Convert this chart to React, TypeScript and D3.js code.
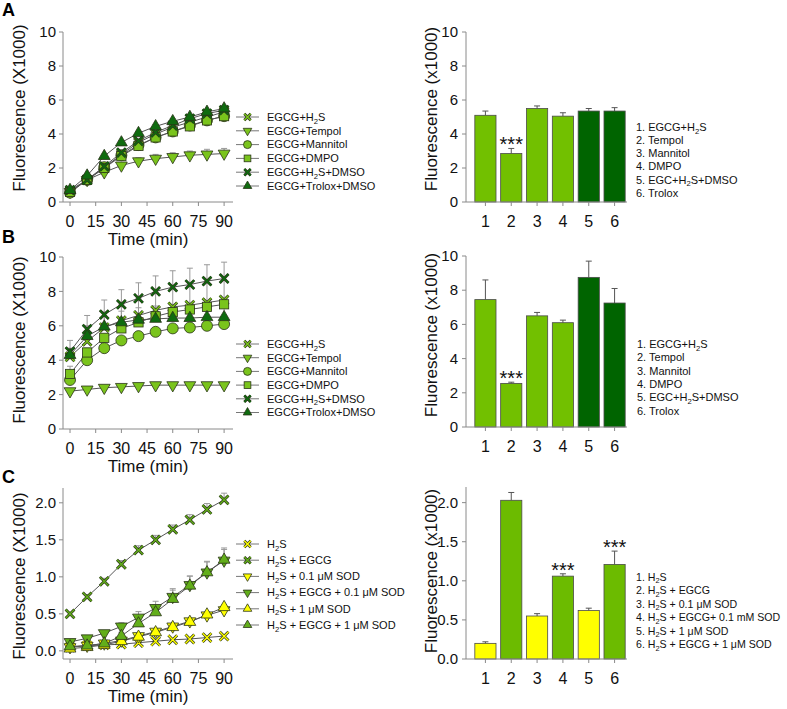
import React from 'react';
import * as d3 from 'd3';

// ---------- data ----------
const timeMin = [0, 10, 20, 30, 40, 50, 60, 70, 80, 90];
const timeTicks = [0, 15, 30, 45, 60, 75, 90];
const barCats = [1, 2, 3, 4, 5, 6];

const legendAB = ['EGCG+H2S', 'EGCG+Tempol', 'EGCG+Mannitol', 'EGCG+DMPO', 'EGCG+H2S+DMSO', 'EGCG+Trolox+DMSO'];
const symbolsAB = ['x', 'down', 'circle', 'square', 'x', 'up'];
const colorsAB = ['lime', 'lime', 'lime', 'lime', 'dark', 'dark'];

const legendC = ['H2S', 'H2S + EGCG', 'H2S + 0.1 μM SOD', 'H2S + EGCG + 0.1 μM SOD', 'H2S + 1 μM SOD', 'H2S + EGCG + 1 μM SOD'];
const symbolsC = ['x', 'x', 'down', 'down', 'up', 'up'];
const colorsC = ['yellow', 'green', 'yellow', 'green', 'yellow', 'green'];

// Panel A time courses
const aH2S = [0.6, 1.3, 2.0, 2.8, 3.5, 4.0, 4.4, 4.7, 5.0, 5.3];
const aTempol = [0.6, 1.3, 1.75, 2.15, 2.4, 2.55, 2.65, 2.75, 2.8, 2.85];
const aMannitol = [0.55, 1.3, 2.05, 2.75, 3.35, 3.8, 4.15, 4.5, 4.8, 5.05];
const aDMPO = [0.6, 1.3, 2.0, 2.7, 3.3, 3.8, 4.15, 4.45, 4.8, 5.05];
const aDMSO = [0.7, 1.3, 2.1, 2.9, 3.6, 4.1, 4.5, 4.9, 5.2, 5.4];
const aTrolox = [0.7, 1.55, 2.7, 3.5, 4.05, 4.45, 4.75, 5.0, 5.3, 5.5];
const aH2SErr = [0.1, 0.1, 0.15, 0.2, 0.2, 0.2, 0.2, 0.2, 0.2, 0.2];
const aTempolErr = [0.1, 0.1, 0.15, 0.15, 0.2, 0.25, 0.25, 0.25, 0.3, 0.3];
const aMannitolErr = [0.1, 0.1, 0.1, 0.15, 0.15, 0.15, 0.15, 0.15, 0.15, 0.15];
const aDMPOErr = [0.1, 0.1, 0.1, 0.15, 0.15, 0.15, 0.15, 0.15, 0.15, 0.15];
const aDMSOErr = [0.1, 0.1, 0.1, 0.15, 0.15, 0.15, 0.15, 0.15, 0.15, 0.15];
const aTroloxErr = [0.1, 0.1, 0.1, 0.1, 0.1, 0.1, 0.15, 0.15, 0.15, 0.15];

// Panel B time courses
const bH2S = [4.2, 5.1, 5.9, 6.3, 6.6, 6.9, 7.1, 7.2, 7.35, 7.5];
const bTempol = [2.2, 2.3, 2.4, 2.45, 2.5, 2.55, 2.55, 2.55, 2.55, 2.55];
const bMannitol = [2.85, 4.0, 4.7, 5.15, 5.4, 5.65, 5.85, 5.9, 6.0, 6.1];
const bDMPO = [3.2, 4.45, 5.3, 5.85, 6.2, 6.55, 6.8, 6.95, 7.1, 7.25];
const bDMSO = [4.5, 5.8, 6.65, 7.25, 7.6, 8.0, 8.25, 8.4, 8.6, 8.75];
const bTrolox = [4.3, 5.4, 5.95, 6.2, 6.35, 6.4, 6.45, 6.45, 6.5, 6.5];
const bH2SErr = [0.5, 0.8, 0.9, 0.95, 1.0, 1.05, 1.1, 1.1, 1.15, 1.15];
const bTempolErr = [0.05, 0.05, 0.05, 0.05, 0.05, 0.05, 0.05, 0.05, 0.05, 0.05];
const bMannitolErr = [0.1, 0.1, 0.1, 0.1, 0.1, 0.1, 0.1, 0.1, 0.1, 0.1];
const bDMPOErr = [0.45, 0.25, 0.2, 0.2, 0.2, 0.2, 0.2, 0.2, 0.2, 0.2];
const bDMSOErr = [0.65, 0.8, 0.85, 0.85, 0.9, 0.9, 0.95, 0.95, 0.95, 0.95];
const bTroloxErr = [0.3, 0.6, 0.6, 0.65, 0.7, 0.75, 0.75, 0.8, 0.8, 0.8];

// Panel C time courses
const cH2S = [0.05, 0.07, 0.08, 0.09, 0.11, 0.13, 0.15, 0.16, 0.18, 0.2];
const cEGCG = [0.5, 0.73, 0.94, 1.17, 1.36, 1.5, 1.64, 1.77, 1.91, 2.04];
const cSOD01 = [0.05, 0.07, 0.1, 0.14, 0.2, 0.26, 0.33, 0.4, 0.48, 0.55];
const cEGCGSOD01 = [0.12, 0.17, 0.24, 0.33, 0.45, 0.58, 0.73, 0.89, 1.06, 1.22];
const cSOD1 = [0.03, 0.05, 0.08, 0.13, 0.19, 0.25, 0.32, 0.39, 0.49, 0.59];
const cEGCGSOD1 = [0.06, 0.07, 0.1, 0.2, 0.37, 0.52, 0.7, 0.88, 1.06, 1.23];
const cH2SErr = [0.01, 0.01, 0.01, 0.01, 0.01, 0.01, 0.01, 0.01, 0.01, 0.02];
const cEGCGErr = [0.02, 0.03, 0.04, 0.05, 0.06, 0.06, 0.06, 0.07, 0.08, 0.09];
const cSOD01Err = [0.01, 0.01, 0.02, 0.02, 0.02, 0.03, 0.03, 0.03, 0.04, 0.04];
const cEGCGSOD01Err = [0.01, 0.02, 0.03, 0.05, 0.08, 0.09, 0.11, 0.12, 0.14, 0.15];
const cSOD1Err = [0.01, 0.01, 0.02, 0.02, 0.02, 0.03, 0.03, 0.03, 0.03, 0.03];
const cEGCGSOD1Err = [0.01, 0.02, 0.03, 0.05, 0.07, 0.1, 0.12, 0.13, 0.15, 0.16];

// Bar data (90 min)
const barLabelsAB = ['1. EGCG+H2S', '2. Tempol', '3. Mannitol', '4. DMPO', '5. EGC+H2S+DMSO', '6. Trolox'];
const barLabelsC = ['1. H2S', '2. H2S + EGCG', '3. H2S + 0.1 μM SOD', '4. H2S + EGCG+ 0.1 mM SOD', '5. H2S + 1 μM SOD', '6. H2S + EGCG + 1 μM SOD'];
const barA = [5.1, 2.85, 5.5, 5.05, 5.35, 5.35];
const barAErr = [0.25, 0.3, 0.15, 0.2, 0.15, 0.2];
const barB = [7.45, 2.55, 6.5, 6.1, 8.75, 7.25];
const barBErr = [1.15, 0.07, 0.2, 0.15, 0.95, 0.85];
const barC = [0.2, 2.03, 0.55, 1.06, 0.62, 1.21];
const barCErr = [0.02, 0.1, 0.03, 0.03, 0.03, 0.17];
const barColorsAB = ['lime', 'lime', 'lime', 'lime', 'dark', 'dark'];
const barColorsC = ['yellow', 'green', 'yellow', 'green', 'yellow', 'green'];
const sigA = [2];
const sigB = [2];
const sigC = [4, 6];

const ticksAB = [0, 2, 4, 6, 8, 10];
const ticksC = [0, 0.5, 1.0, 1.5, 2.0];

// ---------- styling ----------
const FONT = "'Liberation Sans', Arial, sans-serif";
const markerFill: Record<string, string> = { lime: '#7ac41c', dark: '#0f6b0f', yellow: '#ffff00', green: '#62ae1a' };
const barFill: Record<string, string> = { lime: '#72c000', dark: '#006400', yellow: '#ffff00', green: '#6cbb00' };
const AXIS = '#8a8a8a';

function Label({ text, x, y, size }: { text: string; x: number; y: number; size: number }) {
  const parts = text.split(/(H2S)/);
  return (
    <text x={x} y={y} fontSize={size} dy="0.35em" fill="#111">
      {parts.map((p, i) =>
        p === 'H2S' ? (
          <React.Fragment key={i}>
            <tspan>H</tspan>
            <tspan fontSize={size * 0.7} dy={size * 0.25}>2</tspan>
            <tspan dy={-size * 0.25}>S</tspan>
          </React.Fragment>
        ) : (
          <tspan key={i}>{p}</tspan>
        )
      )}
    </text>
  );
}

function Marker({ type, x, y, fill, s }: { type: string; x: number; y: number; fill: string; s: number }) {
  const stroke = '#2a3418';
  if (type === 'circle') return <circle cx={x} cy={y} r={s / 2} fill={fill} stroke={stroke} strokeWidth={0.8} />;
  if (type === 'square')
    return <rect x={x - s * 0.42} y={y - s * 0.42} width={s * 0.84} height={s * 0.84} fill={fill} stroke={stroke} strokeWidth={0.8} />;
  if (type === 'up' || type === 'down') {
    const p = d3.symbol(d3.symbolTriangle, s * s * 0.5)() as string;
    return (
      <path d={p} transform={`translate(${x},${y}) rotate(${type === 'down' ? 180 : 0})`} fill={fill} stroke={stroke} strokeWidth={0.8} />
    );
  }
  const a = s * 0.4;
  const d = `M${x - a},${y - a}L${x + a},${y + a}M${x - a},${y + a}L${x + a},${y - a}`;
  return (
    <g>
      <path d={d} stroke={stroke} strokeWidth={2.8} />
      <path d={d} stroke={fill} strokeWidth={1.4} />
    </g>
  );
}

type LineProps = {
  series: number[][];
  errs: number[][];
  symbols: string[];
  colors: string[];
  legend: string[];
  yDomain: [number, number];
  yRange: [number, number];
  yTicks: number[];
  fmt: (n: number) => string;
  legY: number;
  legStep: number;
  titleY: number;
  letter: string;
  letterY: number;
};

function LineChart(p: LineProps) {
  const x = d3.scaleLinear().domain([-4.1, 95.2]).range([63, 233]);
  const y = d3.scaleLinear().domain(p.yDomain).range(p.yRange);
  const bottom = p.yRange[0];
  const top = p.yRange[1];
  const line = d3
    .line<number>()
    .x((_, i) => x(timeMin[i]))
    .y((d) => y(d));
  return (
    <g>
      <text x={2} y={p.letterY} fontSize={18} fontWeight="bold" fill="#000">{p.letter}</text>
      <line x1={63} x2={63} y1={bottom} y2={top} stroke={AXIS} />
      <line x1={63} x2={233} y1={bottom} y2={bottom} stroke={AXIS} />
      {p.yTicks.map((t) => (
        <g key={t}>
          <line x1={59} x2={63} y1={y(t)} y2={y(t)} stroke={AXIS} />
          <text x={56} y={y(t)} dy="0.35em" textAnchor="end" fontSize={15} fill="#111">{p.fmt(t)}</text>
        </g>
      ))}
      {timeTicks.map((t) => (
        <g key={t}>
          <line x1={x(t)} x2={x(t)} y1={bottom} y2={bottom + 4} stroke={AXIS} />
          <text x={x(t)} y={bottom + 25} textAnchor="middle" fontSize={16} fill="#111">{t}</text>
        </g>
      ))}
      <text x={148} y={bottom + 43} textAnchor="middle" fontSize={17} fill="#111">Time (min)</text>
      <text transform={`translate(25,${p.titleY}) rotate(-90)`} textAnchor="middle" fontSize={17} fill="#111">Fluorescence (X1000)</text>
      {p.series.map((s, si) => (
        <g key={si}>
          {s.map((v, i) => {
            const e = p.errs[si][i];
            const cx = x(timeMin[i]);
            return (
              <g key={i}>
                <line x1={cx} x2={cx} y1={y(v)} y2={y(v + e)} stroke="#999" />
                <line x1={cx - 3} x2={cx + 3} y1={y(v + e)} y2={y(v + e)} stroke="#999" />
              </g>
            );
          })}
        </g>
      ))}
      {p.series.map((s, si) => (
        <path key={si} d={line(s) as string} fill="none" stroke="#555" strokeWidth={1} />
      ))}
      {p.series.map((s, si) => (
        <g key={si}>
          {s.map((v, i) => (
            <Marker key={i} type={p.symbols[si]} x={x(timeMin[i])} y={y(v)} fill={markerFill[p.colors[si]]} s={11} />
          ))}
        </g>
      ))}
      {p.legend.map((lab, i) => {
        const ly = p.legY + i * p.legStep;
        return (
          <g key={i}>
            <line x1={236} x2={259} y1={ly} y2={ly} stroke="#777" />
            <Marker type={p.symbols[i]} x={247.5} y={ly} fill={markerFill[p.colors[i]]} s={8} />
            <Label text={lab} x={267} y={ly} size={11} />
          </g>
        );
      })}
    </g>
  );
}

type BarProps = {
  values: number[];
  errs: number[];
  colors: string[];
  labels: string[];
  sig: number[];
  yDomain: [number, number];
  yRange: [number, number];
  yTicks: number[];
  fmt: (n: number) => string;
  legX: number;
  legY: number;
  legStep: number;
  legSize: number;
  titleY: number;
};

function BarChart(p: BarProps) {
  const x = d3.scaleBand<number>().domain(barCats).range([472.5, 627.5]).paddingInner(0.18).paddingOuter(0.09);
  const y = d3.scaleLinear().domain(p.yDomain).range(p.yRange);
  const bottom = p.yRange[0];
  const top = p.yRange[1];
  const bw = x.bandwidth();
  return (
    <g>
      {p.values.map((v, i) => {
        const c = barCats[i];
        const bx = x(c) as number;
        const cx = bx + bw / 2;
        const e = p.errs[i];
        return (
          <g key={i}>
            <line x1={cx} x2={cx} y1={y(v)} y2={y(v + e)} stroke="#555" />
            <line x1={cx - 3} x2={cx + 3} y1={y(v + e)} y2={y(v + e)} stroke="#555" />
            <rect x={bx} y={y(v)} width={bw} height={bottom - y(v)} fill={barFill[p.colors[i]]} stroke="#4a4a4a" strokeWidth={0.8} />
            {p.sig.includes(c) && (
              <text x={cx} y={y(v + e) + 3} textAnchor="middle" fontSize={20} fill="#111">***</text>
            )}
          </g>
        );
      })}
      <line x1={466} x2={466} y1={bottom} y2={top} stroke={AXIS} />
      <line x1={466} x2={627} y1={bottom} y2={bottom} stroke={AXIS} />
      {p.yTicks.map((t) => (
        <g key={t}>
          <line x1={462} x2={466} y1={y(t)} y2={y(t)} stroke={AXIS} />
          <text x={458} y={y(t)} dy="0.35em" textAnchor="end" fontSize={15} fill="#111">{p.fmt(t)}</text>
        </g>
      ))}
      {barCats.map((c) => {
        const cx = (x(c) as number) + bw / 2;
        return (
          <g key={c}>
            <line x1={cx} x2={cx} y1={bottom} y2={bottom + 4} stroke={AXIS} />
            <text x={cx} y={bottom + 25} textAnchor="middle" fontSize={16} fill="#111">{c}</text>
          </g>
        );
      })}
      <text transform={`translate(437,${p.titleY}) rotate(-90)`} textAnchor="middle" fontSize={17} fill="#111">Fluorescence (x1000)</text>
      {p.labels.map((lab, i) => (
        <Label key={i} text={lab} x={p.legX} y={p.legY + i * p.legStep} size={p.legSize} />
      ))}
    </g>
  );
}

export default function App() {
  const fInt = d3.format('d');
  const f1 = d3.format('.1f');
  return (
    <svg width={787} height={709} style={{ position: 'absolute', left: 0, top: 0, background: '#fff' }} fontFamily={FONT}>
      <rect width={787} height={709} fill="#fff" />
      <LineChart
        series={[aH2S, aTempol, aMannitol, aDMPO, aDMSO, aTrolox]}
        errs={[aH2SErr, aTempolErr, aMannitolErr, aDMPOErr, aDMSOErr, aTroloxErr]}
        symbols={symbolsAB}
        colors={colorsAB}
        legend={legendAB}
        yDomain={[0, 10]}
        yRange={[202, 32]}
        yTicks={ticksAB}
        fmt={fInt}
        legY={117}
        legStep={13.8}
        titleY={108}
        letter="A"
        letterY={16}
      />
      <BarChart values={barA} errs={barAErr} colors={barColorsAB} labels={barLabelsAB} sig={sigA}
        yDomain={[0, 10]} yRange={[202, 32]} yTicks={ticksAB} fmt={fInt} legX={636} legY={127} legStep={13.2} legSize={11} titleY={109} />
      <LineChart
        series={[bH2S, bTempol, bMannitol, bDMPO, bDMSO, bTrolox]}
        errs={[bH2SErr, bTempolErr, bMannitolErr, bDMPOErr, bDMSOErr, bTroloxErr]}
        symbols={symbolsAB}
        colors={colorsAB}
        legend={legendAB}
        yDomain={[0, 10]}
        yRange={[429, 257]}
        yTicks={ticksAB}
        fmt={fInt}
        legY={344}
        legStep={13.7}
        titleY={340}
        letter="B"
        letterY={243}
      />
      <BarChart values={barB} errs={barBErr} colors={barColorsAB} labels={barLabelsAB} sig={sigB}
        yDomain={[0, 10]} yRange={[427, 256]} yTicks={ticksAB} fmt={fInt} legX={637} legY={344} legStep={13.4} legSize={11} titleY={335} />
      <LineChart
        series={[cH2S, cEGCG, cSOD01, cEGCGSOD01, cSOD1, cEGCGSOD1]}
        errs={[cH2SErr, cEGCGErr, cSOD01Err, cEGCGSOD01Err, cSOD1Err, cEGCGSOD1Err]}
        symbols={symbolsC}
        colors={colorsC}
        legend={legendC}
        yDomain={[-0.11, 2.2]}
        yRange={[659, 488]}
        yTicks={ticksC}
        fmt={f1}
        legY={544}
        legStep={16.2}
        titleY={576}
        letter="C"
        letterY={483}
      />
      <BarChart values={barC} errs={barCErr} colors={barColorsC} labels={barLabelsC} sig={sigC}
        yDomain={[0, 2.2]} yRange={[659, 487]} yTicks={ticksC} fmt={f1} legX={636} legY={577} legStep={13.5} legSize={10.6} titleY={571} />
    </svg>
  );
}
